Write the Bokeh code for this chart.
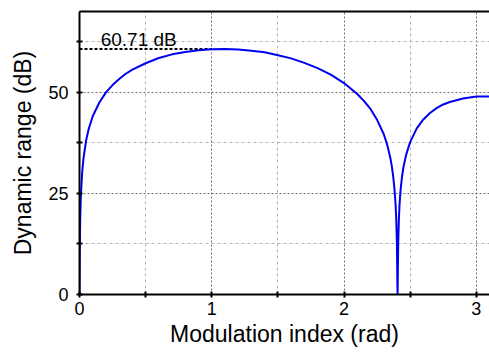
from bokeh.plotting import figure
from bokeh.models import Range1d, FixedTicker, LinearAxis, Label
from bokeh.embed import file_html
from bokeh.resources import INLINE

# Modulation index (rad) and dynamic range (dB)
beta = [0, 0.001, 0.002, 0.005, 0.01, 0.02, 0.03, 0.05, 0.07, 0.1, 0.15, 0.2,
        0.25, 0.3, 0.35, 0.4, 0.5, 0.6, 0.7, 0.8, 0.9, 1.0, 1.1, 1.2, 1.3, 1.4,
        1.5, 1.6, 1.7, 1.8, 1.9, 2.0, 2.1, 2.15, 2.2, 2.25, 2.3, 2.32, 2.33,
        2.34, 2.35, 2.36, 2.37, 2.38, 2.39, 2.395, 2.40, 2.403, 2.405, 2.407,
        2.41, 2.415, 2.42, 2.425, 2.43, 2.44, 2.45, 2.47, 2.5, 2.55, 2.6, 2.65,
        2.7, 2.75, 2.8, 2.9, 3.0, 3.1]
dyn_range = [0, 4.1, 10.1, 18.1, 24.1, 30.1, 33.6, 38.1, 41.0, 44.1, 47.5, 50.0,
             51.8, 53.3, 54.6, 55.6, 57.2, 58.5, 59.4, 60.0, 60.4, 60.65, 60.71,
             60.6, 60.3, 59.9, 59.2, 58.4, 57.3, 56.0, 54.4, 52.3, 49.6, 47.9,
             45.9, 43.2, 39.7, 37.7, 36.6, 35.2, 33.8, 32.0, 29.7, 26.7, 22.2,
             18.6, 12.4, 3.8, 0, 5.6, 13.0, 18.9, 22.3, 24.7, 26.6, 29.5, 31.6,
             34.6, 37.7, 41.1, 43.3, 44.9, 46.1, 47.0, 47.6, 48.5, 49.0, 49.0]

peak_value = 60.71
peak_x = [0, 1.0]
peak_label = "60.71 dB"

x_ticks = [0, 1, 2, 3]
x_minor = [0.5, 1.5, 2.5]
y_ticks = [0, 25, 50]
y_minor = [12.5, 37.5, 62.5]

FONT = "Liberation Sans"

p = figure(width=489, height=352, output_backend="svg", toolbar_location=None,
           x_range=Range1d(0, 3.1), y_range=Range1d(0, 70),
           min_border_left=79, min_border_right=0, min_border_top=11,
           min_border_bottom=58)
p.outline_line_color = None
p.background_fill_color = "white"
p.border_fill_color = "white"

p.xaxis.ticker = FixedTicker(ticks=x_ticks, minor_ticks=x_minor)
p.yaxis.ticker = FixedTicker(ticks=y_ticks, minor_ticks=y_minor)
for g in (p.xgrid, p.ygrid):
    g.grid_line_color = "#6e6e6e"
    g.grid_line_dash = "2 2"
    g.grid_line_width = 1
    g.minor_grid_line_color = "#b4b4b4"
    g.minor_grid_line_dash = "3 3"
    g.minor_grid_line_width = 1

for ax in (p.xaxis, p.yaxis):
    ax.axis_line_color = "black"
    ax.axis_line_width = 2
    ax.major_tick_line_color = "black"
    ax.minor_tick_line_color = "black"
    ax.major_tick_line_width = 2
    ax.minor_tick_line_width = 2
    ax.major_tick_in = 3
    ax.major_tick_out = 3
    ax.minor_tick_in = 3
    ax.minor_tick_out = 3
    ax.major_label_text_font = FONT
    ax.major_label_text_font_size = "18px"
    ax.major_label_text_color = "black"
    ax.axis_label_text_font = FONT
    ax.axis_label_text_font_size = "23px"
    ax.axis_label_text_font_style = "normal"
    ax.axis_label_text_color = "black"

p.xaxis.major_label_standoff = 4
p.yaxis.major_label_standoff = 8
p.yaxis.axis_label = "Dynamic range (dB)"
p.yaxis.axis_label_standoff = 9
p.xaxis.axis_label = "Modulation index (rad)"
p.xaxis.axis_label_standoff = 3

top = LinearAxis(ticker=FixedTicker(ticks=[]), axis_line_color="black",
                 axis_line_width=2, major_tick_out=0, minor_tick_out=0,
                 major_label_text_font_size="0px", major_label_standoff=0)
p.add_layout(top, "above")

p.line(peak_x, [peak_value, peak_value], line_color="black", line_width=2,
       line_dash="3 2")
p.line(beta, dyn_range, line_color="#0000f0", line_width=2)

p.add_layout(Label(x=0.16, y=63.0, text=peak_label, text_font=FONT,
                   text_font_size="19px", text_color="black",
                   text_baseline="alphabetic"))

open("out.html", "w").write(file_html(p, INLINE))
